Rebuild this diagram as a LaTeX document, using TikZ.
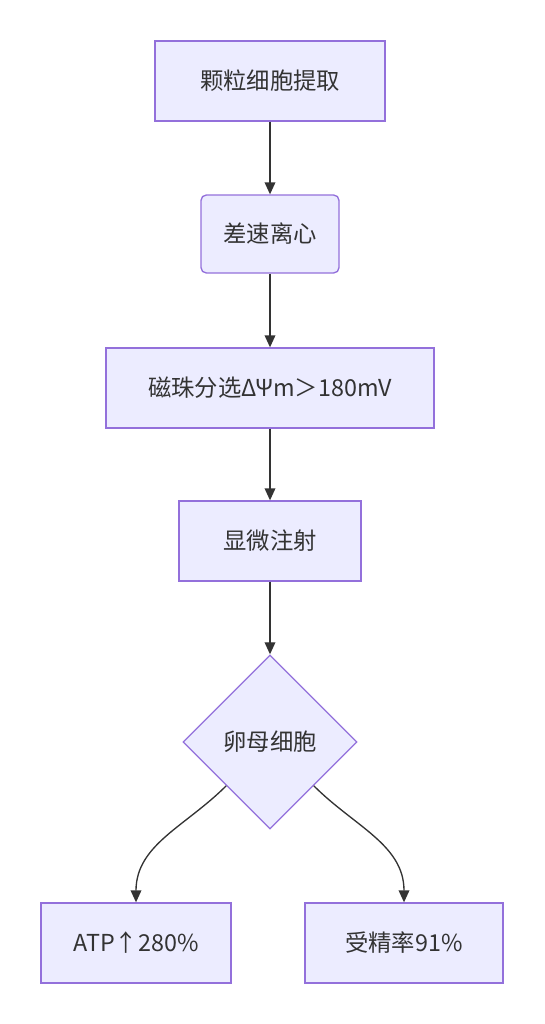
\documentclass[tikz,border=0pt]{standalone}
\usepackage{fontspec}
\setmainfont{Noto Sans CJK SC}
\usepackage{tikz}
\usetikzlibrary{arrows.meta, shapes.geometric, positioning}
\definecolor{nodefill}{HTML}{ECECFF}
\definecolor{nodeborder}{HTML}{9370DB}
\definecolor{linkcolor}{HTML}{333333}

\begin{document}
\begin{tikzpicture}[
        x=0.75pt, y=0.75pt,
        font=\fontsize{17.5pt}{20pt}\selectfont,
        box/.style={
            rectangle,
            draw=nodeborder,
            line width=1pt,
            fill=nodefill,
            text=linkcolor,
            minimum height=60pt,
            inner sep=0pt
        },
        round box/.style={
            box,
            rounded corners=4pt
        },
        check/.style={
            diamond,
            aspect=1,
            draw=nodeborder,
            line width=1pt,
            fill=nodefill,
            text=linkcolor,
            minimum width=130.5pt,
            minimum height=130.5pt,
            inner sep=0pt
        },
        arrow/.style={-{Triangle[length=9pt,width=8pt]},line width=1pt,draw=linkcolor}
    ]
    \useasboundingbox (0,0) rectangle (544,-1024);

    % 流程节点
    \node[box, minimum width=172.5pt] (extract) at (270,-81) {颗粒细胞提取};
    \node[round box, minimum width=103.5pt, minimum height=58.5pt] (centri) at (270,-234) {差速离心};
    \node[box, minimum width=246pt] (sort) at (270,-388) {磁珠分选ΔΨm＞180mV};
    \node[box, minimum width=136.5pt] (inject) at (270,-541) {显微注射};
    \node[check] (oocyte) at (270,-742) {卵母细胞};

    % 结果
    \node[box, minimum width=142.5pt] (atp) at (136,-943) {ATP↑280\%};
    \node[box, minimum width=148.5pt] (fert) at (404,-943) {受精率91\%};

    % 连接
    \draw[arrow] (extract) -- (centri);
    \draw[arrow] (centri) -- (sort);
    \draw[arrow] (sort) -- (inject);
    \draw[arrow] (inject) -- (oocyte);
    \draw[arrow] (oocyte.south west) to[out=-135,in=90] (atp.north);
    \draw[arrow] (oocyte.south east) to[out=-45,in=90] (fert.north);

\end{tikzpicture}
\end{document}
